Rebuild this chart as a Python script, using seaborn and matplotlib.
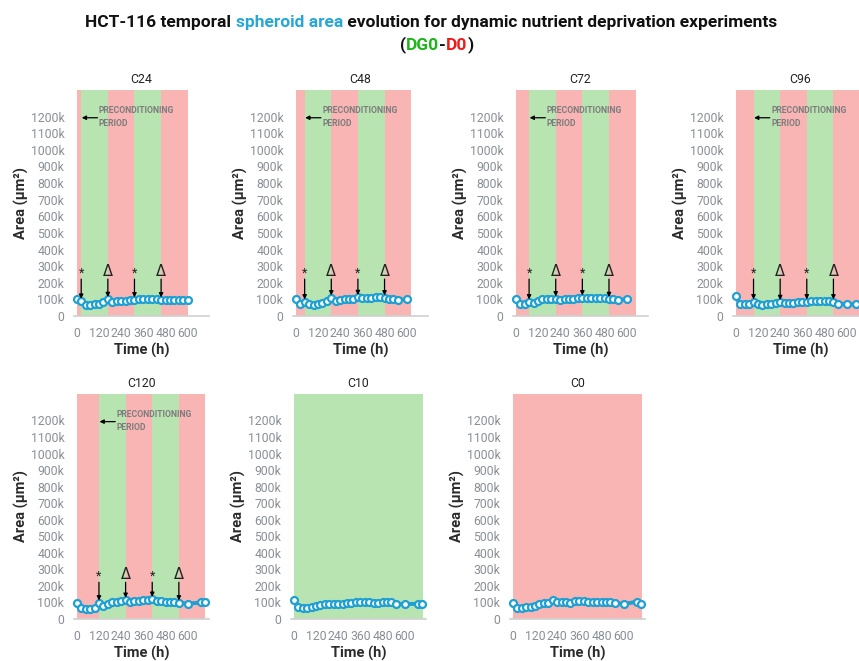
import matplotlib
matplotlib.use("Agg")
import matplotlib.pyplot as plt
import seaborn as sns
import numpy as np

sns.set_theme(style="white")
plt.rcParams['font.family'] = ['Roboto', 'DejaVu Sans']

# ---- data (spheroid area in thousands of µm², time in hours) ----
time_c24 = [0, 24, 48, 72, 96, 120, 144, 168, 192, 216, 240, 264, 288, 312,
            336, 360, 384, 408, 432, 456, 480, 504, 528, 552, 576, 600]
area_c24 = [100, 90, 68, 68, 70, 75, 85, 100, 85, 88, 90, 92, 95, 98,
            100, 100, 103, 105, 103, 98, 96, 96, 96, 96, 95, 95]
sd_c24 = [10, 8, 8, 8, 8, 8, 8, 10, 8, 8, 8, 8, 8, 8,
          8, 8, 8, 8, 8, 8, 8, 8, 8, 8, 8, 8]

time_c48 = [0, 24, 48, 72, 96, 120, 144, 168, 192, 216, 240, 264, 288, 312,
            336, 360, 384, 408, 432, 456, 480, 504, 528, 552, 600]
area_c48 = [100, 75, 86, 70, 68, 75, 80, 88, 110, 92, 95, 100, 103, 105,
            112, 108, 110, 110, 112, 112, 110, 100, 100, 98, 100]
sd_c48 = [10, 8, 8, 8, 8, 8, 8, 8, 10, 8, 8, 8, 8, 8,
          10, 10, 10, 10, 10, 10, 8, 8, 8, 8, 8]

time_c72 = [0, 24, 48, 72, 96, 120, 144, 168, 192, 216, 240, 264, 288, 312,
            336, 360, 384, 408, 432, 456, 480, 504, 528, 552, 600]
area_c72 = [100, 72, 75, 86, 80, 88, 100, 102, 105, 104, 95, 100, 103, 105,
            108, 110, 110, 110, 110, 110, 110, 100, 100, 98, 100]
sd_c72 = [10, 8, 8, 8, 8, 8, 8, 8, 8, 8, 8, 8, 8, 8,
          8, 8, 8, 8, 8, 8, 8, 8, 8, 8, 8]

time_c96 = [0, 24, 48, 72, 96, 120, 144, 168, 192, 216, 240, 264, 288, 312,
            336, 360, 384, 408, 432, 456, 480, 504, 528, 552, 600, 648]
area_c96 = [120, 70, 70, 72, 86, 72, 65, 72, 75, 80, 82, 80, 80, 80,
            82, 83, 86, 88, 90, 90, 90, 90, 86, 75, 70, 72]
sd_c96 = [10, 8, 8, 10, 12, 18, 22, 22, 22, 22, 22, 22, 22, 22,
          22, 22, 22, 22, 22, 20, 18, 15, 12, 10, 8, 8]

time_c120 = [0, 24, 48, 72, 96, 120, 144, 168, 192, 216, 240, 264, 288, 312,
             336, 360, 384, 408, 432, 456, 480, 504, 528, 552, 600, 672, 696]
area_c120 = [98, 65, 62, 62, 68, 98, 80, 88, 100, 105, 108, 114, 105, 108,
             110, 112, 115, 120, 110, 108, 105, 105, 105, 98, 92, 100, 100]
sd_c120 = [8, 8, 8, 8, 8, 10, 20, 22, 25, 25, 25, 25, 25, 25,
           25, 25, 22, 20, 15, 12, 10, 8, 8, 8, 8, 8, 8]

time_c10 = [0, 24, 48, 72, 96, 120, 144, 168, 192, 216, 240, 264, 288, 312,
            336, 360, 384, 408, 432, 456, 480, 504, 528, 552, 600, 672, 696]
area_c10 = [115, 72, 65, 68, 72, 78, 85, 88, 90, 90, 92, 90, 95, 98,
            105, 100, 100, 100, 95, 95, 100, 100, 100, 90, 90, 92, 92]
sd_c10 = [10, 8, 8, 8, 8, 8, 10, 12, 12, 14, 14, 14, 14, 14,
          10, 10, 10, 10, 10, 10, 10, 8, 8, 8, 8, 8, 8]

time_c0 = [0, 24, 48, 72, 96, 120, 144, 168, 192, 216, 240, 264, 288, 312,
           336, 360, 384, 408, 432, 456, 480, 504, 528, 552, 600, 672, 696]
area_c0 = [95, 68, 65, 70, 75, 80, 92, 95, 98, 115, 100, 105, 105, 98,
           108, 108, 108, 105, 100, 100, 100, 100, 100, 98, 90, 105, 92]
sd_c0 = [8, 8, 8, 8, 8, 8, 10, 12, 12, 14, 12, 12, 12, 12,
         12, 12, 12, 12, 10, 10, 8, 8, 8, 8, 8, 8, 8]

conditions = ["C24", "C48", "C72", "C96", "C120", "C10", "C0"]
precondition_h = [24, 48, 72, 96, 120, None, None]
constant_medium = [None, None, None, None, None, "glucose", "deprived"]

y_ticks = [0, 100, 200, 300, 400, 500, 600, 700, 800, 900, 1000, 1100, 1200]
x_ticks = [0, 120, 240, 360, 480, 600]

CYCLE_H = 144
BLUE = "#1fa0d2"
RED_BG = "#f9b4b4"
GREEN_BG = "#b8e4b1"
TICK_GREY = "#8a8f96"
LABEL_DARK = "#2b2b2b"

series = [
    (time_c24, area_c24, sd_c24),
    (time_c48, area_c48, sd_c48),
    (time_c72, area_c72, sd_c72),
    (time_c96, area_c96, sd_c96),
    (time_c120, area_c120, sd_c120),
    (time_c10, area_c10, sd_c10),
    (time_c0, area_c0, sd_c0),
]

W, H = 859, 661
fig = plt.figure(figsize=(W / 100, H / 100), dpi=100)

# axes boxes in pixels: (left, top, bottom)
boxes = [
    (74, 90, 316), (293, 90, 316), (513, 90, 316), (733, 90, 316),
    (74, 394, 619), (291, 394, 619), (510, 394, 619),
]
AX_W = 135

for name, pre, medium, (t, a, sd), (lpx, tpx, bpx) in zip(
        conditions, precondition_h, constant_medium, series, boxes):
    ax = fig.add_axes([lpx / W, (H - bpx) / H, AX_W / W, (bpx - tpx) / H])
    ax.set_xlim(-15, 715)
    ax.set_ylim(0, 1360)

    # medium schedule shading
    if pre is None:
        ax.axvspan(0, 700, color=GREEN_BG if medium == "glucose" else RED_BG,
                   lw=0, zorder=0)
    else:
        edges = [0, pre, pre + CYCLE_H, pre + 2 * CYCLE_H,
                 pre + 3 * CYCLE_H, pre + 4 * CYCLE_H]
        for i in range(5):
            ax.axvspan(edges[i], edges[i + 1],
                       color=RED_BG if i % 2 == 0 else GREEN_BG, lw=0, zorder=0)

    ta = np.array(t, dtype=float)
    aa = np.array(a, dtype=float)
    ss = np.array(sd, dtype=float)
    ax.fill_between(ta, aa - ss, aa + ss, color="#a0a0a0", alpha=0.35,
                    lw=0, zorder=2)
    sns.lineplot(x=ta, y=aa, ax=ax, color=BLUE, lw=2.8, marker="o",
                 markersize=5, markerfacecolor="white", markeredgecolor=BLUE,
                 markeredgewidth=1.6, errorbar=None, zorder=4, clip_on=False)

    if pre is not None:
        lookup = dict(zip(t, a))
        for k, sym in enumerate(["*", "Δ", "*", "Δ"]):
            te = pre + k * CYCLE_H
            ax.annotate("", xy=(te, lookup[te] + 14), xytext=(te, 222),
                        arrowprops=dict(arrowstyle="-|>", color="black",
                                        lw=0.9, mutation_scale=6,
                                        shrinkA=0, shrinkB=0), zorder=5)
            ax.text(te, 218 if sym == "*" else 224, sym, ha="center",
                    va="bottom", fontsize=9 if sym == "*" else 10.5,
                    color="#222222", zorder=5,
                    family=["DejaVu Sans"] if sym == "Δ" else None)
        ax.annotate("", xy=(pre + 3, 1193), xytext=(pre + 88, 1193),
                    arrowprops=dict(arrowstyle="-|>", color="black", lw=0.9,
                                    mutation_scale=6, shrinkA=0, shrinkB=0),
                    zorder=5)
        ax.text(pre + 95, 1196, "PRECONDITIONING\nPERIOD", fontsize=6.2,
                fontweight="bold", color="#7d7d7d", ha="left", va="center",
                linespacing=1.6, zorder=5, clip_on=False)

    ax.set_xticks(x_ticks)
    ax.set_xticklabels([str(v) for v in x_ticks])
    ax.set_yticks(y_ticks)
    ax.set_yticklabels(["0"] + [f"{v}k" for v in y_ticks[1:]])
    ax.tick_params(axis="both", length=0, labelsize=8.8, colors=TICK_GREY)
    ax.tick_params(axis="x", pad=8)
    ax.tick_params(axis="y", pad=7)
    for s in ["top", "right", "left"]:
        ax.spines[s].set_visible(False)
    ax.spines["bottom"].set_color("#d0d0d0")
    ax.spines["bottom"].set_linewidth(1.2)
    ax.set_title(name, fontsize=8.8, color="#222222", pad=5)
    ax.set_xlabel("Time (h)", fontsize=10.5, fontweight="bold",
                  color=LABEL_DARK, labelpad=2)
    ax.set_ylabel("Area (µm²)", fontsize=10.5, fontweight="bold",
                  color=LABEL_DARK, labelpad=1)


def colored_line(parts, y_px, cx_px, size):
    texts = [fig.text(0, 1 - y_px / H, s, color=c, fontsize=size,
                      fontweight="bold", va="center", ha="left")
             for s, c in parts]
    renderer = fig.canvas.get_renderer()
    widths = [tx.get_window_extent(renderer).width for tx in texts]
    x = cx_px - sum(widths) / 2
    for tx, w in zip(texts, widths):
        tx.set_x(x / W)
        x += w


colored_line([("HCT-116 temporal ", "#111111"),
              ("spheroid area", "#29a6d8"),
              (" evolution for dynamic nutrient deprivation experiments",
               "#111111")], 22, 431, 12.5)
colored_line([("(", "#111111"), ("DG0", "#1cb51c"), ("-", "#111111"),
              ("D0", "#ee1b1b"), (")", "#111111")], 45, 437, 12.5)

fig.savefig("out.png", dpi=100)
